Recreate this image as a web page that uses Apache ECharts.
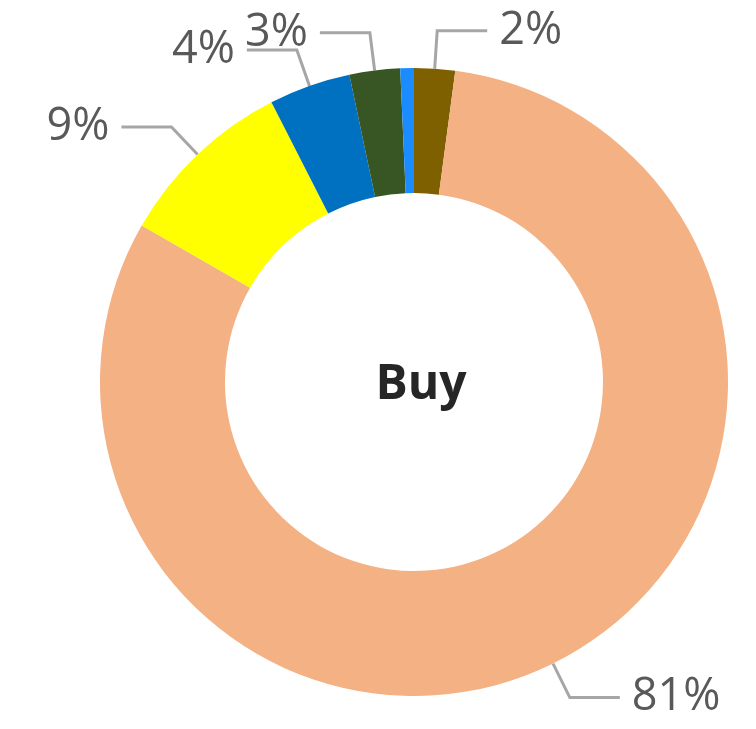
<!DOCTYPE html>
<html>
<head>
<meta charset="utf-8">
<script src="https://cdn.jsdelivr.net/npm/echarts@6/dist/echarts.min.js"></script>
<style>
  html, body { margin: 0; padding: 0; background: #ffffff; }
  #chart { width: 756px; height: 729px; }
</style>
</head>
<body>
<div id="chart"></div>
<script>
// Parts du donut, dans le sens horaire depuis midi
const categories = ['A', 'B', 'C', 'D', 'E', 'F'];
const values = [2.1, 81.2, 9.2, 4.2, 2.6, 0.7];
const colors = ['#7F6000', '#F4B183', '#FFFF00', '#0070C0', '#375623', '#1A8CFF'];
const showLabel = [true, true, true, true, true, false];
const centerText = 'Buy';

const chart = echarts.init(document.getElementById('chart'));

const data = categories.map((name, i) => ({
    name: name,
    value: values[i],
    itemStyle: { color: colors[i] },
    label: { show: showLabel[i] },
    labelLine: { show: showLabel[i] }
}));

const option = {
    backgroundColor: '#ffffff',
    animation: false,
    title: {
        text: centerText,
        left: 416,
        top: 380,
        textAlign: 'center',
        textVerticalAlign: 'middle',
        textStyle: {
            fontFamily: 'Open Sans',
            fontWeight: 'bold',
            fontSize: 48,
            color: '#262626'
        }
    },
    series: [{
        type: 'pie',
        center: [414, 382],
        radius: [189, 314],
        startAngle: 90,
        clockwise: true,
        avoidLabelOverlap: false,
        label: {
            formatter: (p) => Math.round(p.percent) + '%',
            fontFamily: 'Open Sans',
            fontSize: 45,
            color: '#595959',
            distanceToLabelLine: 12
        },
        labelLine: {
            length: 38,
            length2: 50,
            lineStyle: { color: '#A6A6A6', width: 3 }
        },
        data: data
    }]
};

chart.setOption(option);
</script>
</body>
</html>
